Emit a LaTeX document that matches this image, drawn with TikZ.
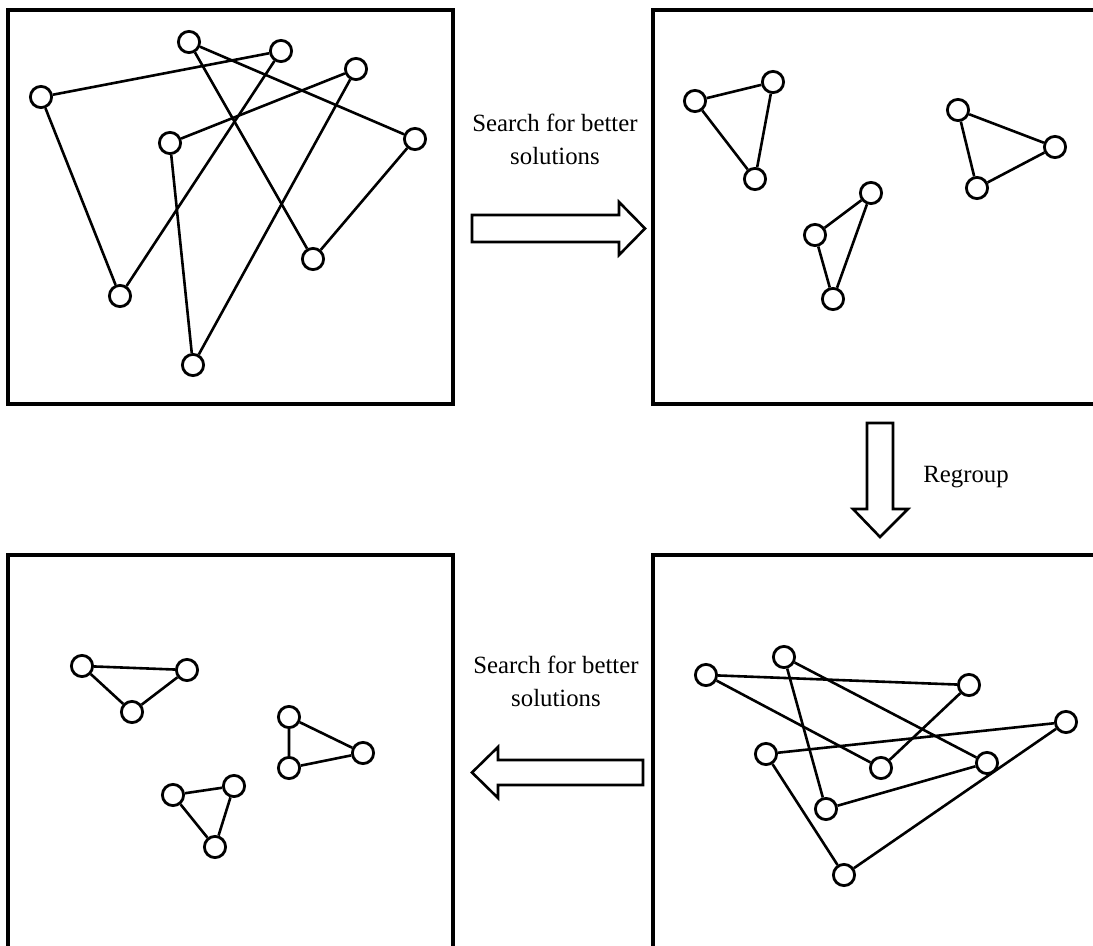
\documentclass[tikz,border=0pt]{standalone}
\usepackage{fontspec}
\setmainfont{Liberation Serif}
\begin{document}
\begin{tikzpicture}[x=0.5pt,y=-0.5pt,
  vtx/.style={circle,draw,line width=1.4pt,minimum size=10.6pt,inner sep=0pt,fill=white},
  link/.style={line width=1.3pt},
  panel/.style={draw,line width=1.6pt},
  blockarrow/.style={draw,line width=1.3pt,line join=miter,fill=white},
  caption/.style={font=\fontsize{12.4pt}{16.5pt}\selectfont,align=center}]
\useasboundingbox (0,0) rectangle (1093,946);
\clip (0,0) rectangle (1093,946);

% the four panels (right and lower ones run off the page)
\draw[panel] (8,10) rectangle (453,404);
\draw[panel] (653,10) rectangle (1120,404);
\draw[panel] (653,555) rectangle (1120,980);
\draw[panel] (8,555) rectangle (453,980);

% panel 1: three interlaced triangles
\node[vtx] (a1) at (41,97) {};
\node[vtx] (a2) at (189,42) {};
\node[vtx] (a3) at (281,51) {};
\node[vtx] (a4) at (356,69) {};
\node[vtx] (a5) at (170,143) {};
\node[vtx] (a6) at (415,139) {};
\node[vtx] (a7) at (313,259) {};
\node[vtx] (a8) at (120,296) {};
\node[vtx] (a9) at (193,365) {};
\draw[link] (a1) -- (a3) (a1) -- (a8) (a8) -- (a3);
\draw[link] (a2) -- (a6) (a2) -- (a7) (a7) -- (a6);
\draw[link] (a5) -- (a4) (a5) -- (a9) (a9) -- (a4);

% panel 2: separated triangles
\node[vtx] (b1) at (695,101) {};
\node[vtx] (b2) at (773,82) {};
\node[vtx] (b3) at (755,179) {};
\node[vtx] (b4) at (815,235) {};
\node[vtx] (b5) at (871,193) {};
\node[vtx] (b6) at (833,299) {};
\node[vtx] (b7) at (958,110) {};
\node[vtx] (b8) at (1055,147) {};
\node[vtx] (b9) at (977,188) {};
\draw[link] (b1) -- (b2) -- (b3) -- (b1);
\draw[link] (b4) -- (b5) -- (b6) -- (b4);
\draw[link] (b7) -- (b8) -- (b9) -- (b7);

% panel 3: regrouped, interlaced again
\node[vtx] (c1) at (706,675) {};
\node[vtx] (c2) at (784,657) {};
\node[vtx] (c3) at (969,685) {};
\node[vtx] (c4) at (1066,722) {};
\node[vtx] (c5) at (766,754) {};
\node[vtx] (c6) at (881,768) {};
\node[vtx] (c7) at (987,763) {};
\node[vtx] (c8) at (826,809) {};
\node[vtx] (c9) at (844,875) {};
\draw[link] (c1) -- (c3) (c1) -- (c6) (c6) -- (c3);
\draw[link] (c2) -- (c7) (c2) -- (c8) (c8) -- (c7);
\draw[link] (c5) -- (c4) (c5) -- (c9) (c9) -- (c4);

% panel 4: separated triangles
\node[vtx] (d1) at (82,666) {};
\node[vtx] (d2) at (187,670) {};
\node[vtx] (d3) at (132,712) {};
\node[vtx] (d4) at (289,717) {};
\node[vtx] (d5) at (363,753) {};
\node[vtx] (d6) at (289,768) {};
\node[vtx] (d7) at (173,795) {};
\node[vtx] (d8) at (234,786) {};
\node[vtx] (d9) at (215,847) {};
\draw[link] (d1) -- (d2) -- (d3) -- (d1);
\draw[link] (d4) -- (d5) -- (d6) -- (d4);
\draw[link] (d7) -- (d8) -- (d9) -- (d7);

% block arrows between the panels
\draw[blockarrow] (472,215) -- (619,215) -- (619,202) -- (645,228.5)
  -- (619,255) -- (619,242) -- (472,242) -- cycle;
\draw[blockarrow] (867,423) -- (893,423) -- (893,509) -- (908,509)
  -- (880,537) -- (853,509) -- (867,509) -- cycle;
\draw[blockarrow] (643,760) -- (498,760) -- (498,747) -- (472,772.5)
  -- (498,798) -- (498,785) -- (643,785) -- cycle;

% captions
\node[caption] (t1) at (555,139) {Search for better\\solutions};
\node[caption] (t2) at (966,477) {Regroup};
\node[caption] (t3) at (556,681) {Search for better\\solutions};
\end{tikzpicture}
\end{document}
